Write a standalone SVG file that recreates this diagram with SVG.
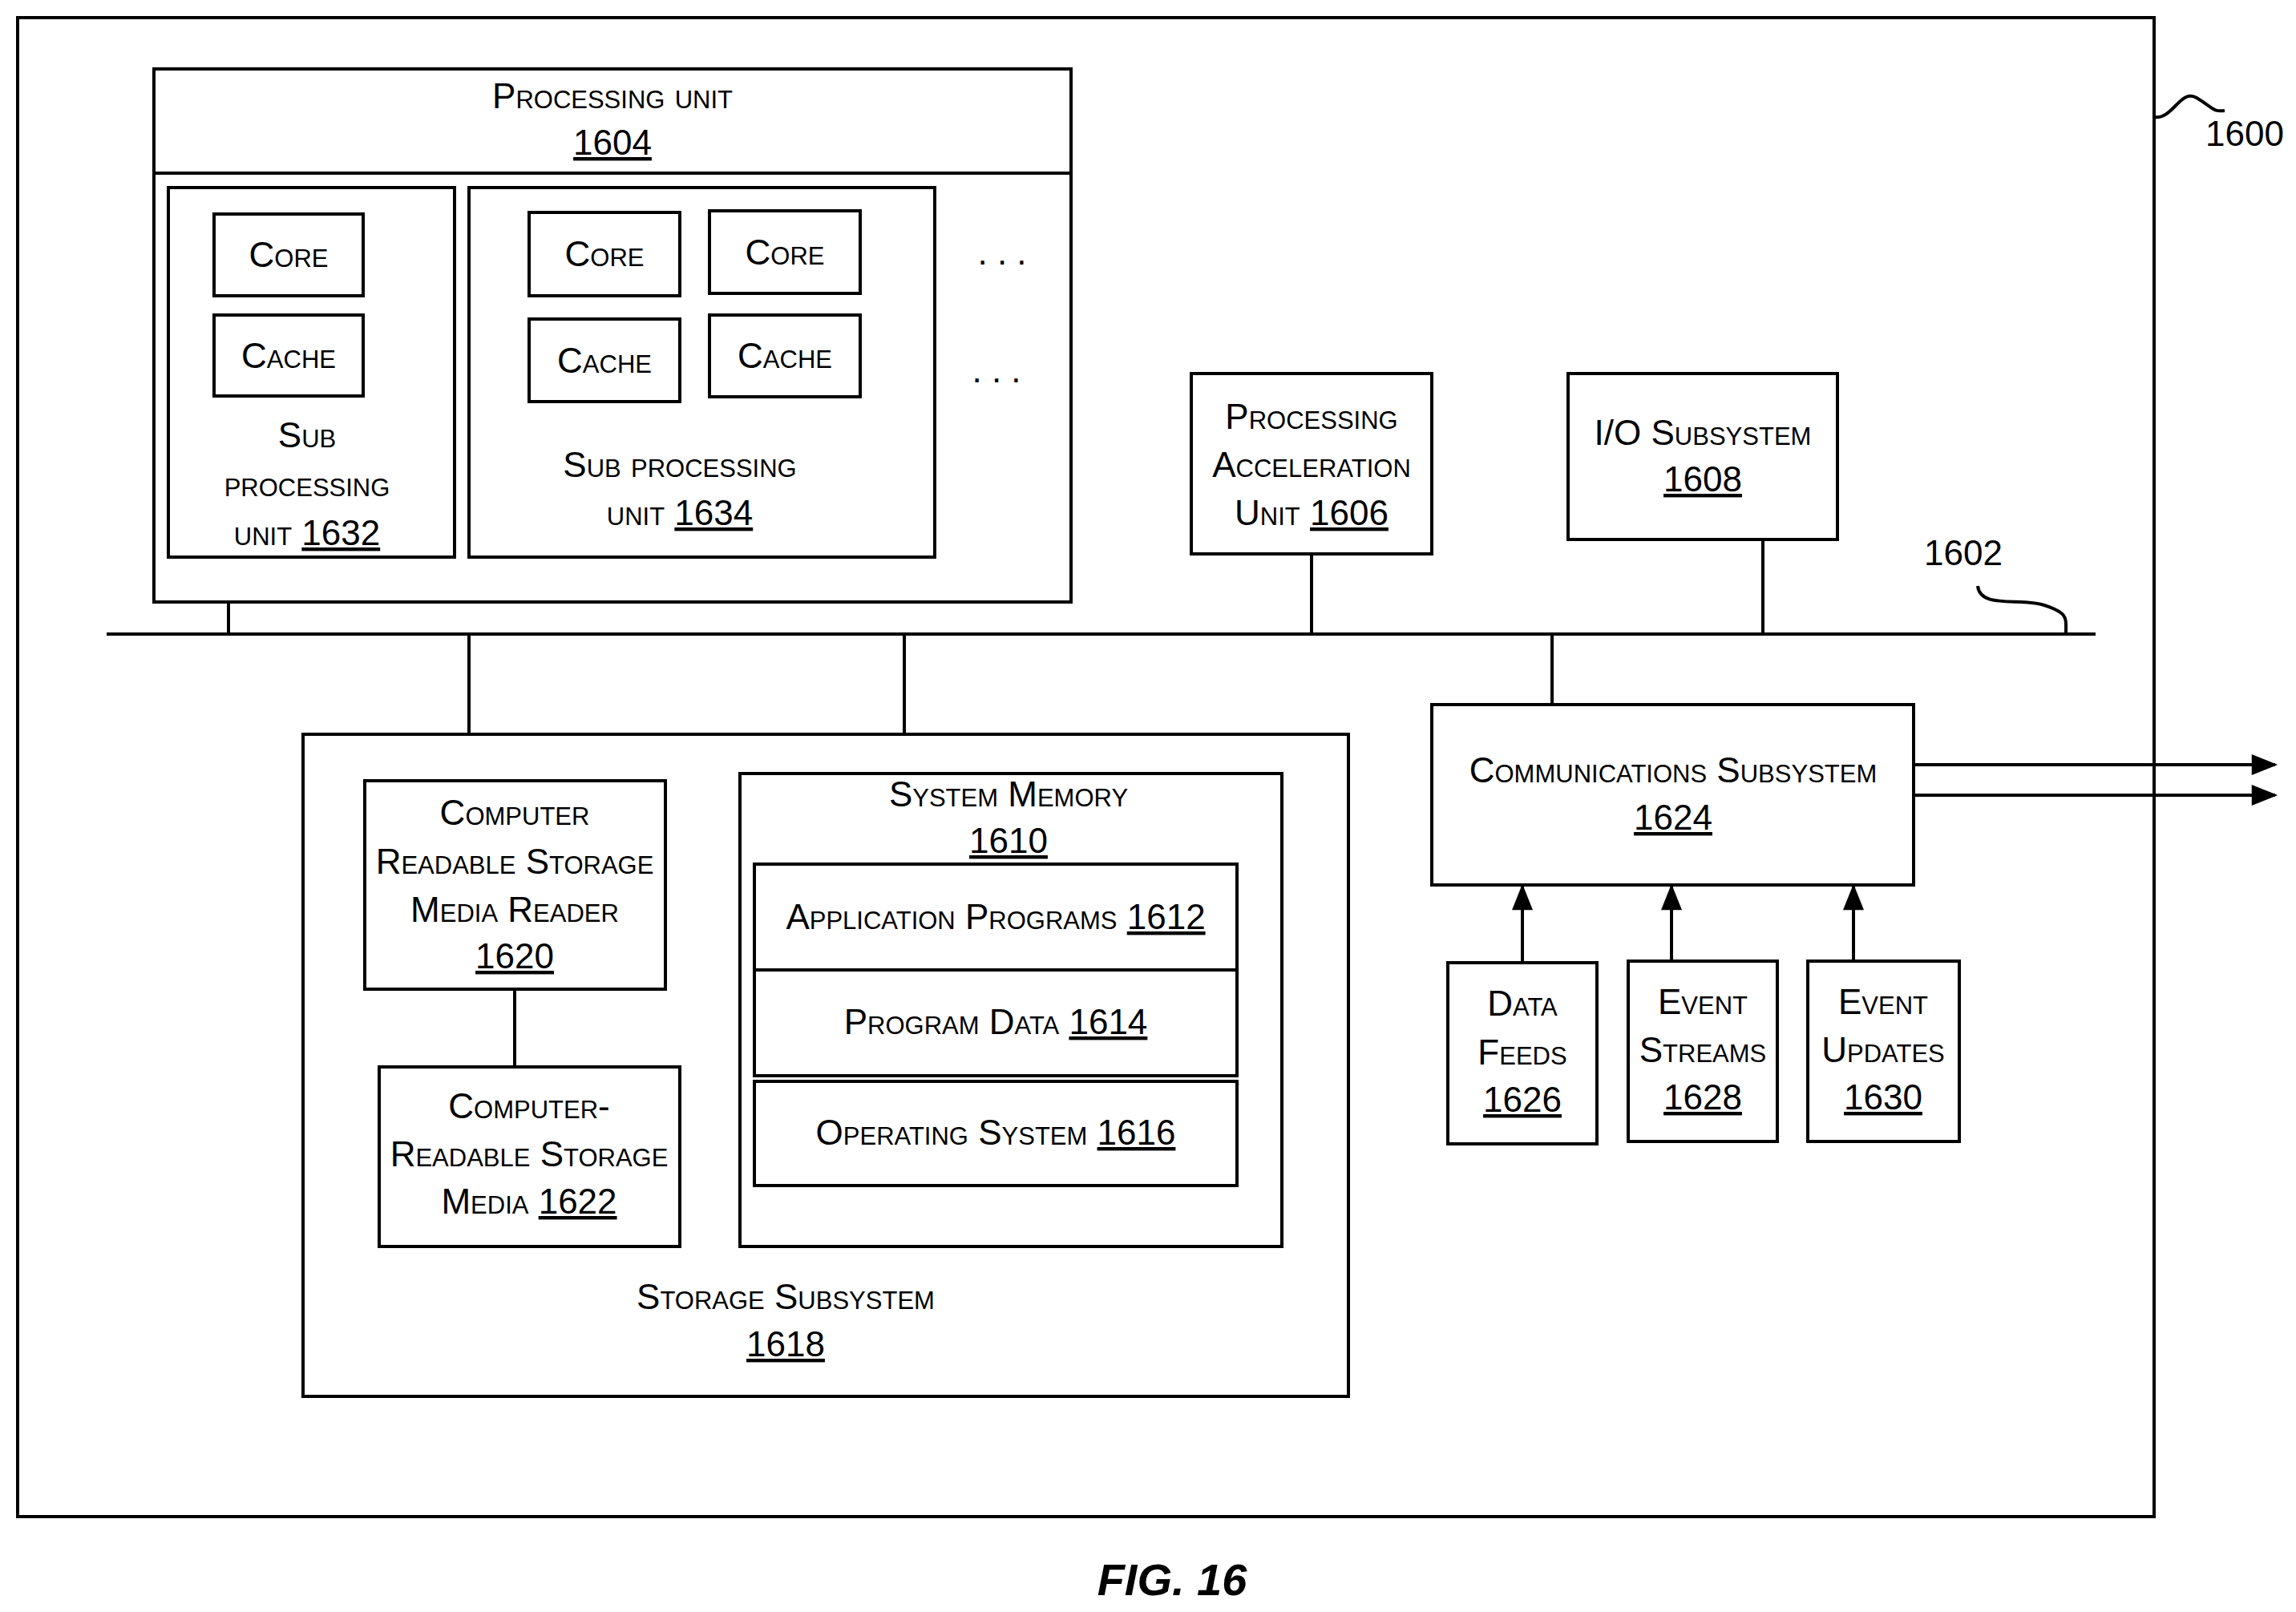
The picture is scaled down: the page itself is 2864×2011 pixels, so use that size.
<svg xmlns="http://www.w3.org/2000/svg" width="2864" height="2011" viewBox="0 0 2864 2011">
<style>
.b{fill:none;stroke:#000;stroke-width:4}
.l{stroke:#000;stroke-width:4;fill:none}
text{font-family:"Liberation Sans",Arial,sans-serif;font-size:44px;text-anchor:middle;font-variant:small-caps;fill:#000}
.u{text-decoration:underline}
</style>
<defs><marker id="a" markerWidth="10" markerHeight="8" refX="9" refY="4" orient="auto" markerUnits="userSpaceOnUse" viewBox="0 0 10 8"><path d="M0 0L10 4L0 8z"/></marker>
<marker id="A" viewBox="0 0 10 8" refX="9" refY="4" markerWidth="48" markerHeight="26" orient="auto" markerUnits="userSpaceOnUse"><path d="M0 0L10 4L0 8z"/></marker></defs>
<rect width="2864" height="2011" fill="#fff"/>
<g id="system"><rect class="b" x="22" y="22" width="2665" height="1870"/></g>
<g id="connectors">
<line class="l" x1="133" y1="791" x2="2614" y2="791"/>
<line class="l" x1="285" y1="751" x2="285" y2="791"/>
<line class="l" x1="1636" y1="691" x2="1636" y2="791"/>
<line class="l" x1="2199" y1="673" x2="2199" y2="791"/>
<line class="l" x1="585" y1="791" x2="585" y2="916"/>
<line class="l" x1="1128" y1="791" x2="1128" y2="916"/>
<line class="l" x1="1936" y1="791" x2="1936" y2="879"/>
<line class="l" x1="642" y1="1234" x2="642" y2="1331"/>
<line class="l" x1="2387" y1="954" x2="2838" y2="954" marker-end="url(#A)"/>
<line class="l" x1="2387" y1="992" x2="2838" y2="992" marker-end="url(#A)"/>
<line class="l" x1="1899" y1="1201" x2="1899" y2="1106" marker-end="url(#A)"/>
<line class="l" x1="2085" y1="1199" x2="2085" y2="1106" marker-end="url(#A)"/>
<line class="l" x1="2312" y1="1199" x2="2312" y2="1106" marker-end="url(#A)"/>
<path class="l" d="M2687 146 C2710 150 2720 110 2740 122 S2760 140 2775 138"/>
<path class="l" d="M2467 731 C2470 760 2520 745 2550 755 S2577 770 2577 790"/>
</g>
<text x="2800" y="182" style="font-variant:normal">1600</text>
<text x="2449" y="705" style="font-variant:normal">1602</text>
<g id="pu"><rect class="b" x="192" y="86" width="1144" height="665"/><line class="l" x1="192" y1="216" x2="1336" y2="216"/>
<text x="764" y="135">Processing unit</text><text x="764" y="193" class="u">1604</text></g>
<g id="spu1632"><rect class="b" x="210" y="234" width="357" height="461"/>
<text x="383" y="558">Sub</text><text x="383" y="619">processing</text><text x="383" y="680">unit <tspan class="u">1632</tspan></text></g>
<g id="core1"><rect class="b" x="267" y="267" width="186" height="102"/><text x="360" y="333">Core</text></g>
<g id="cache1"><rect class="b" x="267" y="393" width="186" height="101"/><text x="360" y="459">Cache</text></g>
<g id="spu1634"><rect class="b" x="585" y="234" width="581" height="461"/>
<text x="848" y="595">Sub processing</text><text x="848" y="655">unit <tspan class="u">1634</tspan></text></g>
<g id="core2"><rect class="b" x="660" y="265" width="188" height="104"/><text x="754" y="332">Core</text></g>
<g id="core3"><rect class="b" x="885" y="263" width="188" height="103"/><text x="979" y="330">Core</text></g>
<g id="cache2"><rect class="b" x="660" y="398" width="188" height="103"/><text x="754" y="465">Cache</text></g>
<g id="cache3"><rect class="b" x="885" y="393" width="188" height="102"/><text x="979" y="459">Cache</text></g>
<text x="1250" y="330">. . .</text><text x="1243" y="477">. . .</text>
<g id="pau"><rect class="b" x="1486" y="466" width="300" height="225"/>
<text x="1636" y="535">Processing</text><text x="1636" y="595">Acceleration</text><text x="1636" y="655">Unit <tspan class="u">1606</tspan></text></g>
<g id="io"><rect class="b" x="1956" y="466" width="336" height="207"/>
<text x="2124" y="555">I/O Subsystem</text><text x="2124" y="613" class="u">1608</text></g>
<g id="storage"><rect class="b" x="378" y="916" width="1304" height="826"/>
<text x="980" y="1633">Storage Subsystem</text><text x="980" y="1692" class="u">1618</text></g>
<g id="crsmr"><rect class="b" x="455" y="974" width="375" height="260"/>
<text x="642" y="1029">Computer</text><text x="642" y="1090">Readable Storage</text><text x="642" y="1150">Media Reader</text><text x="642" y="1208" class="u">1620</text></g>
<g id="crsm"><rect class="b" x="473" y="1331" width="375" height="224"/>
<text x="660" y="1395">Computer-</text><text x="660" y="1455">Readable Storage</text><text x="660" y="1514">Media <tspan class="u">1622</tspan></text></g>
<g id="sysmem"><rect class="b" x="923" y="965" width="676" height="590"/>
<text x="1258" y="1006">System Memory</text><text x="1258" y="1064" class="u">1610</text></g>
<g id="app"><rect class="b" x="941" y="1078" width="602" height="132"/><text x="1242" y="1159">Application Programs <tspan class="u">1612</tspan></text></g>
<g id="pd"><rect class="b" x="941" y="1210" width="602" height="132"/><text x="1242" y="1290">Program Data <tspan class="u">1614</tspan></text></g>
<g id="os"><rect class="b" x="941" y="1349" width="602" height="130"/><text x="1242" y="1428">Operating System  <tspan class="u">1616</tspan></text></g>
<g id="comms"><rect class="b" x="1786" y="879" width="601" height="225"/>
<text x="2087" y="976">Communications Subsystem</text><text x="2087" y="1035" class="u">1624</text></g>
<g id="df"><rect class="b" x="1806" y="1201" width="186" height="226"/><text x="1899" y="1267">Data</text><text x="1899" y="1328">Feeds</text><text x="1899" y="1387" class="u">1626</text></g>
<g id="es"><rect class="b" x="2031" y="1199" width="186" height="225"/><text x="2124" y="1265">Event</text><text x="2124" y="1325">Streams</text><text x="2124" y="1384" class="u">1628</text></g>
<g id="eu"><rect class="b" x="2255" y="1199" width="189" height="225"/><text x="2349" y="1265">Event</text><text x="2349" y="1325">Updates</text><text x="2349" y="1384" class="u">1630</text></g>
<text x="1462" y="1990" style="font-variant:normal;font-weight:bold;font-style:italic;font-size:56px">FIG. 16</text>
</svg>
